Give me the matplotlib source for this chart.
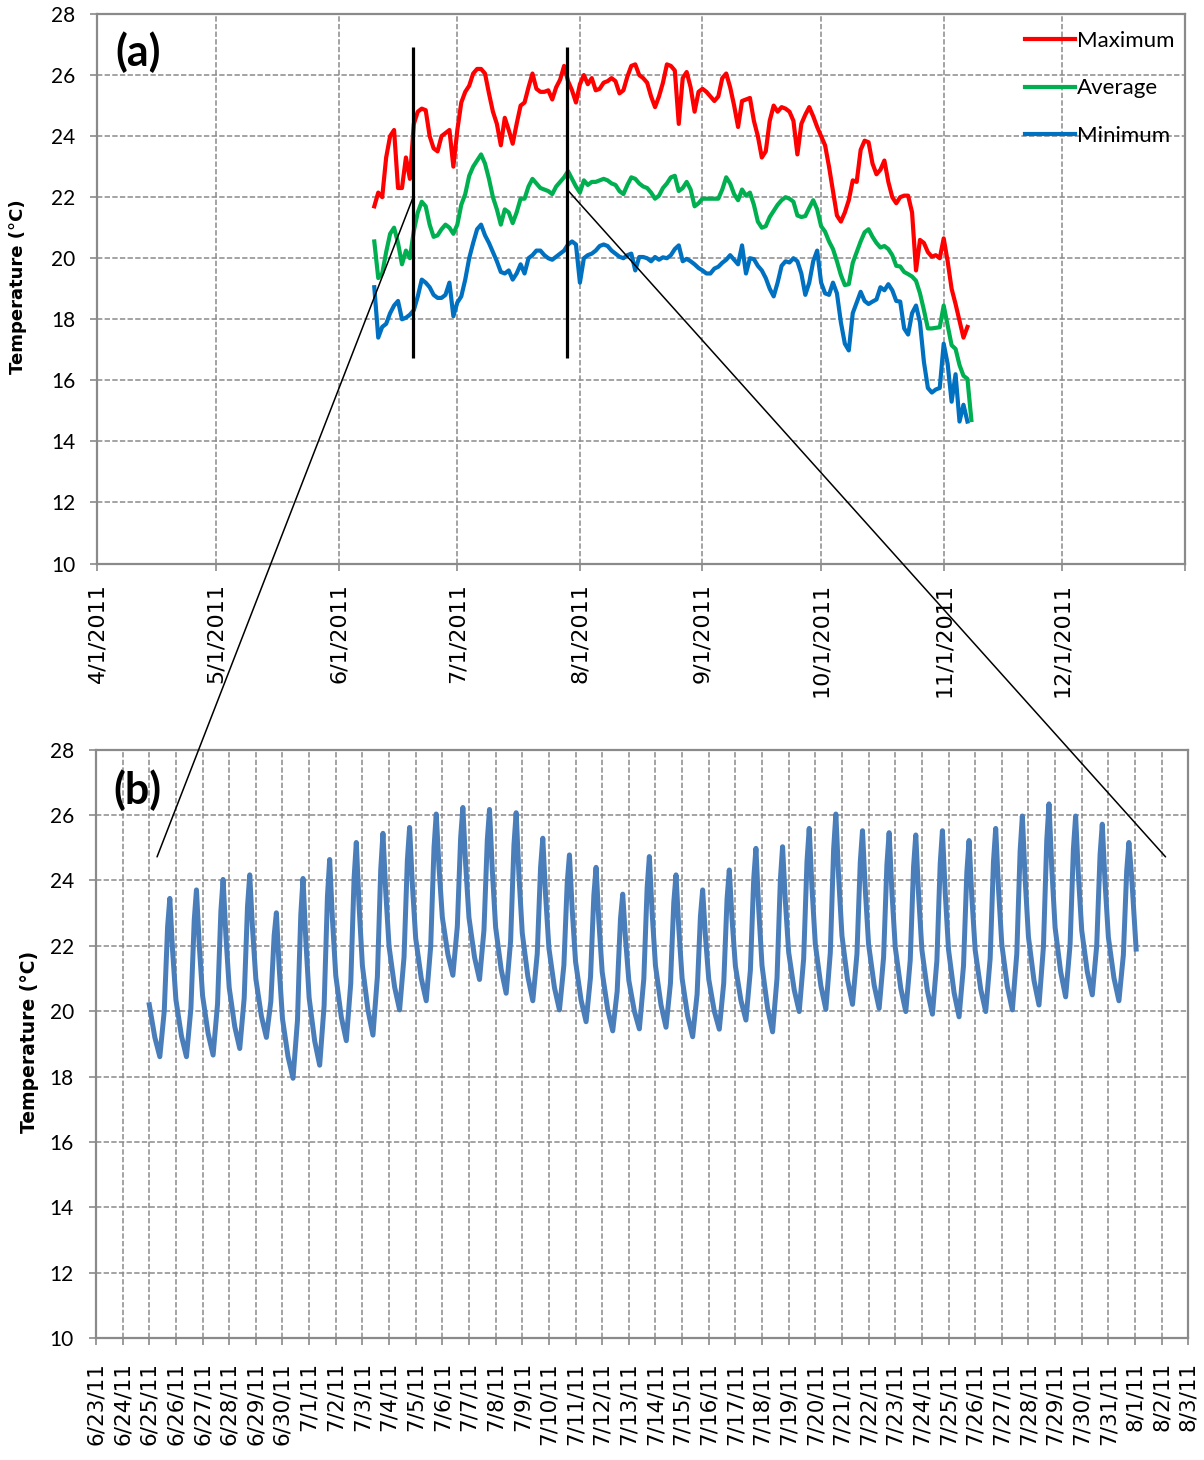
import numpy as np
import pandas as pd
import matplotlib
matplotlib.use("Agg")
import matplotlib.pyplot as plt
import matplotlib.dates as mdates
from matplotlib.patches import ConnectionPatch

# ── 1. Data ───────────────────────────────────────────────────────────────
# (a) daily water temperature, first day 6/10/2011
daily_start = "2011-06-10"
max_temp = [
    21.7, 22.15, 22.0, 23.3, 24.0, 24.2, 22.3, 22.3, 23.3, 22.6,          # 6/10-6/19
    24.4, 24.8, 24.9, 24.85, 24.0, 23.6, 23.5, 24.0, 24.1, 24.2, 23.0,    # 6/20-6/30
    24.2, 25.1, 25.45, 25.65, 26.05, 26.2, 26.2, 26.05, 25.4, 24.8,       # 7/1-7/10
    24.4, 23.7, 24.6, 24.2, 23.75, 24.4, 25.0, 25.1, 25.6, 26.05,         # 7/11-7/20
    25.55, 25.45, 25.45, 25.5, 25.2, 25.6, 25.85, 26.3, 25.8, 25.5, 25.1, # 7/21-7/31
    25.7, 26.0, 25.7, 25.9, 25.5, 25.55, 25.75, 25.8, 25.9, 25.8,         # 8/1-8/10
    25.4, 25.5, 25.95, 26.3, 26.35, 26.0, 25.9, 25.75, 25.3, 24.95,       # 8/11-8/20
    25.3, 25.75, 26.35, 26.3, 26.15, 24.4, 25.9, 26.1, 25.6, 24.8, 25.45, # 8/21-8/31
    25.55, 25.45, 25.3, 25.15, 25.3, 25.9, 26.05, 25.6, 25.0, 24.3,       # 9/1-9/10
    25.15, 25.2, 25.25, 24.5, 24.0, 23.3, 23.5, 24.5, 25.0, 24.8,         # 9/11-9/20
    24.95, 24.9, 24.8, 24.5, 23.4, 24.4, 24.7, 24.95, 24.65, 24.3,        # 9/21-9/30
    24.0, 23.7, 23.0, 22.2, 21.4, 21.2, 21.5, 21.9, 22.55, 22.5,          # 10/1-10/10
    23.55, 23.85, 23.8, 23.1, 22.75, 22.9, 23.2, 22.5, 22.0, 21.8,        # 10/11-10/20
    22.0, 22.05, 22.05, 21.5, 19.6, 20.6, 20.5, 20.2, 20.05, 20.1, 20.0,  # 10/21-10/31
    20.65, 19.9, 19.0, 18.5, 17.95, 17.4, 17.75,                          # 11/1-11/7
]
avg_temp = [
    20.55, 19.35, 19.5, 20.2, 20.8, 21.0, 20.5, 19.8, 20.25, 20.0,
    20.9, 21.5, 21.85, 21.7, 21.1, 20.7, 20.75, 20.95, 21.1, 21.0, 20.8,
    21.1, 21.75, 22.1, 22.7, 23.0, 23.2, 23.4, 23.1, 22.6, 22.0,
    21.6, 21.1, 21.6, 21.5, 21.15, 21.5, 21.95, 21.95, 22.35, 22.6,
    22.45, 22.3, 22.25, 22.2, 22.1, 22.35, 22.5, 22.65, 22.85, 22.6, 22.35,
    22.15, 22.55, 22.4, 22.5, 22.5, 22.55, 22.6, 22.55, 22.45, 22.4,
    22.2, 22.1, 22.4, 22.65, 22.6, 22.45, 22.35, 22.3, 22.15, 21.95,
    22.05, 22.3, 22.45, 22.65, 22.7, 22.2, 22.3, 22.5, 22.25, 21.7, 21.8,
    21.95, 21.95, 21.95, 21.95, 21.95, 22.25, 22.65, 22.45, 22.1, 21.9,
    22.25, 22.05, 22.15, 21.75, 21.2, 21.0, 21.05, 21.35, 21.55, 21.75,
    21.9, 22.0, 21.95, 21.85, 21.4, 21.35, 21.38, 21.65, 21.9, 21.6,
    21.05, 20.87, 20.55, 20.3, 19.9, 19.45, 19.12, 19.15, 19.85, 20.2,
    20.55, 20.85, 20.95, 20.7, 20.5, 20.35, 20.4, 20.3, 20.1, 19.75,
    19.73, 19.55, 19.48, 19.4, 19.26, 18.85, 18.3, 17.7, 17.7, 17.72, 17.74,
    18.45, 17.8, 17.15, 17.03, 16.5, 16.15, 16.05, 14.7,                  # 11/1-11/8
]
min_temp = [
    19.05, 17.4, 17.75, 17.85, 18.2, 18.45, 18.6, 18.0, 18.05, 18.15,
    18.3, 18.75, 19.3, 19.2, 19.05, 18.8, 18.7, 18.7, 18.8, 19.2, 18.1,
    18.55, 18.75, 19.3, 20.0, 20.5, 20.95, 21.1, 20.75, 20.5, 20.2,
    19.9, 19.55, 19.5, 19.6, 19.3, 19.5, 19.8, 19.5, 20.0, 20.1,
    20.25, 20.25, 20.1, 20.0, 19.95, 20.05, 20.15, 20.25, 20.45, 20.55, 20.45,
    19.2, 20.0, 20.1, 20.15, 20.25, 20.4, 20.45, 20.4, 20.25, 20.15,
    20.05, 20.0, 20.1, 20.15, 19.6, 20.04, 20.04, 20.0, 19.9, 20.04,
    19.95, 20.03, 20.0, 20.1, 20.3, 20.42, 19.9, 19.98, 19.9, 19.8, 19.68,
    19.6, 19.5, 19.5, 19.66, 19.72, 19.85, 19.95, 20.1, 19.95, 19.8,
    20.42, 19.5, 20.0, 19.97, 19.75, 19.6, 19.35, 19.0, 18.75, 19.2,
    19.75, 19.9, 19.86, 20.0, 19.9, 19.5, 18.8, 19.2, 19.9, 20.25,
    19.2, 18.85, 18.8, 19.2, 18.85, 17.9, 17.2, 16.98, 18.2, 18.55,
    18.9, 18.6, 18.5, 18.58, 18.65, 19.05, 18.95, 19.15, 18.95, 18.6,
    18.58, 17.7, 17.5, 18.2, 18.45, 17.9, 16.6, 15.75, 15.6, 15.7, 15.75,
    17.2, 16.54, 15.3, 16.2, 14.65, 15.2, 14.65,                          # 11/1-11/7
]

# (b) sub-daily readings, one row per day from 6/25/2011, at these hours
sub_start = "2011-06-25"
sub_hours = [0, 5, 9.5, 13.5, 16.5, 18.5, 21]
sub_temp = [
    [20.20, 19.20, 18.61, 20.01, 22.58, 23.45, 21.85],  # 6/25
    [20.35, 19.24, 18.61, 20.09, 22.79, 23.71, 22.04],
    [20.48, 19.32, 18.66, 20.22, 23.06, 24.03, 22.32],
    [20.72, 19.53, 18.86, 20.40, 23.21, 24.17, 22.53],
    [20.99, 19.85, 19.20, 20.30, 22.32, 23.01, 21.34],
    [19.77, 18.61, 17.95, 19.72, 22.96, 24.06, 22.18],  # 6/30
    [20.41, 19.09, 18.35, 20.17, 23.51, 24.64, 22.81],
    [21.09, 19.82, 19.10, 20.86, 24.07, 25.16, 23.22],
    [21.39, 20.04, 19.27, 21.06, 24.33, 25.44, 23.66],
    [21.98, 20.74, 20.04, 21.66, 24.62, 25.62, 23.87],
    [22.23, 21.01, 20.32, 21.98, 25.00, 26.03, 24.40],  # 7/5
    [22.87, 21.74, 21.10, 22.59, 25.31, 26.23, 24.49],
    [22.86, 21.65, 20.97, 22.48, 25.23, 26.17, 24.32],
    [22.57, 21.28, 20.55, 22.15, 25.08, 26.07, 24.17],
    [22.39, 21.07, 20.32, 21.76, 24.40, 25.29, 23.56],
    [21.93, 20.72, 20.04, 21.41, 23.93, 24.78, 23.10],  # 7/10
    [21.52, 20.34, 19.68, 21.05, 23.55, 24.40, 22.75],
    [21.20, 20.05, 19.40, 20.61, 22.83, 23.58, 22.22],
    [20.94, 20.00, 19.46, 20.99, 23.78, 24.73, 23.01],
    [21.39, 20.19, 19.51, 20.86, 23.33, 24.17, 22.54],
    [21.00, 19.86, 19.22, 20.52, 22.90, 23.71, 22.30],  # 7/15
    [20.98, 20.00, 19.45, 20.86, 23.44, 24.32, 22.81],
    [21.38, 20.33, 19.73, 21.25, 24.04, 24.98, 23.13],
    [21.39, 20.10, 19.37, 21.01, 24.01, 25.03, 23.37],
    [21.80, 20.65, 19.99, 21.61, 24.58, 25.59, 23.77],
    [22.05, 20.78, 20.06, 21.79, 24.96, 26.03, 24.11],  # 7/20
    [22.31, 20.97, 20.21, 21.75, 24.56, 25.52, 23.73],
    [22.04, 20.80, 20.09, 21.65, 24.49, 25.46, 23.65],
    [21.96, 20.70, 19.99, 21.56, 24.42, 25.39, 23.58],
    [21.88, 20.62, 19.91, 21.54, 24.51, 25.52, 23.64],
    [21.88, 20.57, 19.83, 21.39, 24.25, 25.22, 23.49],  # 7/25
    [21.87, 20.67, 19.99, 21.61, 24.58, 25.59, 23.76],
    [22.04, 20.76, 20.04, 21.76, 24.90, 25.97, 24.06],
    [22.27, 20.94, 20.19, 21.97, 25.23, 26.34, 24.39],
    [22.56, 21.21, 20.44, 22.04, 24.97, 25.97, 24.16],
    [22.47, 21.21, 20.50, 22.01, 24.78, 25.72, 23.94],  # 7/30
    [22.26, 21.02, 20.32, 21.72, 24.29, 25.16, 24.10],  # 7/31
]
sub_end_time = "2011-08-01 01:00"
sub_end_temp = 21.9

# zoom markers linking (a) to (b)
zoom_marks = ["2011-06-19 17:00", "2011-07-28 17:00"]
zoom_mark_low, zoom_mark_high = 16.73, 26.92
zoom_join_temp = [21.96, 22.26]
zoom_targets = ["2011-06-25 07:00", "2011-08-02 03:30"]
zoom_target_temp = 24.72

# ── 2. Style ──────────────────────────────────────────────────────────────
plt.rcParams["font.family"] = ["Lato", "DejaVu Sans"]
GRID = "#8a8a8a"
RED, GREEN, BLUE = "#FF0000", "#00B050", "#0070C0"
SUB_BLUE = "#4A7EBB"
DASH = (0, (3.5, 1.5))

fig = plt.figure(figsize=(12.04, 14.6), dpi=100)
ax1 = fig.add_axes([0.08098, 0.61404, 0.90316, 0.37637])
ax2 = fig.add_axes([0.07973, 0.08336, 0.90723, 0.40322])


def style_axes(ax, xpad):
    ax.set_ylim(10, 28)
    ax.set_yticks(np.arange(10, 29, 2))
    ax.grid(True, color=GRID, linestyle=DASH, linewidth=1.1)
    ax.set_axisbelow(True)
    for sp in ax.spines.values():
        sp.set_color(GRID)
        sp.set_linewidth(1.6)
    ax.tick_params(axis="y", direction="out", length=5, width=1.2, color=GRID,
                   pad=11, labelsize=15)
    ax.tick_params(axis="x", direction="out", length=5, width=1.2, color=GRID,
                   pad=xpad)


# ── 3. Panel (a) ──────────────────────────────────────────────────────────
num = mdates.date2num
d_max = pd.date_range(daily_start, periods=len(max_temp), freq="D")
d_avg = pd.date_range(daily_start, periods=len(avg_temp), freq="D")
d_min = pd.date_range(daily_start, periods=len(min_temp), freq="D")

ax1.plot(num(d_max), max_temp, color=RED, lw=3.0, label="Maximum")
ax1.plot(num(d_avg), avg_temp, color=GREEN, lw=3.0, label="Average")
ax1.plot(num(d_min), min_temp, color=BLUE, lw=3.0, label="Minimum")

style_axes(ax1, xpad=9)
months = pd.date_range("2011-04-01", "2012-01-01", freq="MS")
m_labels = [f"{m.month}/{m.day}/{m.year}" for m in months[:-1]] + [""]
ax1.set_xticks(num(months), m_labels, rotation=90, fontsize=16,
               fontfamily="DejaVu Sans")
ax1.set_xlim(num(months[0]), num(months[-1]))

for d in zoom_marks:
    x = num(pd.Timestamp(d))
    ax1.plot([x, x], [zoom_mark_low, zoom_mark_high], color="black", lw=2.3,
             solid_capstyle="butt")

ax1.legend(loc="upper right", bbox_to_anchor=(1.006, 1.0), frameon=False,
           fontsize=16, handlelength=2.25, handletextpad=0.12,
           labelspacing=1.25, borderaxespad=0.45, borderpad=0.3)
ax1.text(0.0161, 0.931, "(a)", transform=ax1.transAxes, fontsize=31,
         fontweight="bold", ha="left", va="center")

# ── 4. Panel (b) ──────────────────────────────────────────────────────────
t0 = num(pd.Timestamp(sub_start))
sub_x = (t0 + np.arange(len(sub_temp))[:, None]
         + np.array(sub_hours)[None, :] / 24.0).ravel()
sub_x = np.append(sub_x, num(pd.Timestamp(sub_end_time)))
sub_y = np.append(np.array(sub_temp).ravel(), sub_end_temp)
ax2.plot(sub_x, sub_y, color=SUB_BLUE, lw=3.6, solid_joinstyle="round")

style_axes(ax2, xpad=12)
days = pd.date_range("2011-06-23", "2011-08-03", freq="D")
d_labels = [f"{d.month}/{d.day}/{d.year % 100}" for d in days]
ax2.set_xticks(num(days), d_labels, rotation=90, fontsize=15.5,
               fontfamily="DejaVu Sans")
ax2.set_xlim(num(days[0]), num(days[-1]))
ax2.text(0.0156, 0.931, "(b)", transform=ax2.transAxes, fontsize=31,
         fontweight="bold", ha="left", va="center")

# y-axis titles
fig.text(18 / 1204, 1 - 287 / 1460, "Temperature (°C)", rotation=90,
         ha="center", va="center", fontsize=13, fontweight="bold",
         fontfamily="DejaVu Sans")
fig.text(30 / 1204, 1 - 1042 / 1460, "Temperature (°C)", rotation=90,
         ha="center", va="center", fontsize=13.5, fontweight="bold",
         fontfamily="DejaVu Sans")

# ── 5. Zoom connectors ────────────────────────────────────────────────────
for d, jt, tgt in zip(zoom_marks, zoom_join_temp, zoom_targets):
    con = ConnectionPatch(xyA=(num(pd.Timestamp(d)), jt), coordsA="data", axesA=ax1,
                          xyB=(num(pd.Timestamp(tgt)), zoom_target_temp),
                          coordsB="data", axesB=ax2, color="black", lw=1.1)
    fig.add_artist(con)

plt.savefig("out.png", dpi=100)
print("Saved: out.png")
